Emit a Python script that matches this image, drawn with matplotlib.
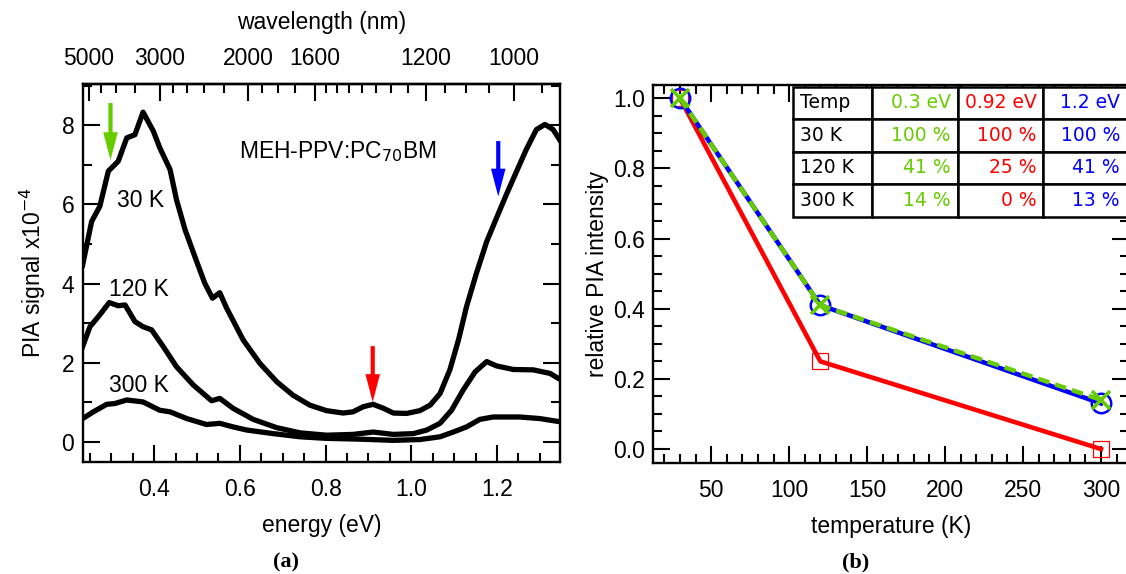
import numpy as np
import matplotlib.pyplot as plt
from matplotlib.ticker import MultipleLocator

plt.rcParams['font.family'] = ['Liberation Sans', 'DejaVu Sans']

# ---- (a) PIA spectra of MEH-PPV:PC70BM at three temperatures ----
e_30k = [0.233, 0.254, 0.273, 0.293, 0.316, 0.336, 0.355, 0.374, 0.398, 0.413,
         0.437, 0.452, 0.472, 0.499, 0.518, 0.536, 0.553, 0.569, 0.608, 0.647,
         0.686, 0.724, 0.763, 0.802, 0.841, 0.864, 0.888, 0.911, 0.935, 0.958,
         0.989, 1.020, 1.044, 1.067, 1.090, 1.110, 1.129, 1.152, 1.176, 1.199,
         1.222, 1.246, 1.269, 1.292, 1.312, 1.331, 1.347]
pia_30k = [4.47, 5.57, 5.95, 6.84, 7.09, 7.68, 7.76, 8.33, 7.85, 7.43,
           6.88, 6.12, 5.36, 4.56, 4.01, 3.63, 3.77, 3.38, 2.57, 1.98,
           1.52, 1.18, 0.93, 0.79, 0.73, 0.76, 0.89, 0.95, 0.85, 0.73,
           0.72, 0.79, 0.93, 1.22, 1.82, 2.57, 3.42, 4.26, 5.06, 5.66,
           6.25, 6.84, 7.40, 7.89, 8.02, 7.89, 7.62]

e_120k = [0.233, 0.250, 0.273, 0.295, 0.316, 0.332, 0.355, 0.374, 0.394, 0.421,
          0.452, 0.491, 0.534, 0.553, 0.584, 0.631, 0.686, 0.740, 0.802, 0.864,
          0.911, 0.958, 1.005, 1.036, 1.067, 1.094, 1.121, 1.149, 1.176, 1.199,
          1.238, 1.285, 1.324, 1.347]
pia_120k = [2.41, 2.91, 3.21, 3.52, 3.44, 3.46, 3.04, 2.91, 2.83, 2.41,
            1.90, 1.44, 1.04, 1.10, 0.85, 0.57, 0.36, 0.23, 0.17, 0.19,
            0.25, 0.19, 0.21, 0.30, 0.47, 0.80, 1.31, 1.77, 2.03, 1.92,
            1.83, 1.82, 1.73, 1.58]

e_300k = [0.233, 0.258, 0.289, 0.308, 0.336, 0.374, 0.413, 0.437, 0.476, 0.522,
          0.553, 0.584, 0.616, 0.678, 0.740, 0.802, 0.880, 0.958, 1.020, 1.067,
          1.098, 1.129, 1.160, 1.191, 1.253, 1.300, 1.347]
pia_300k = [0.59, 0.76, 0.95, 0.97, 1.06, 1.01, 0.80, 0.76, 0.59, 0.44,
            0.47, 0.38, 0.30, 0.21, 0.13, 0.09, 0.07, 0.04, 0.06, 0.13,
            0.25, 0.38, 0.57, 0.63, 0.63, 0.59, 0.51]

curve_labels = ['30 K', '120 K', '300 K']
label_e = [0.369, 0.364, 0.364]
label_y = [6.11, 3.85, 1.43]

arrow_e = [0.298, 0.91, 1.203]
arrow_from = [8.56, 2.42, 7.60]
arrow_to = [7.12, 1.01, 6.20]
green, red, blue = '#66cc00', '#ff0000', '#0000ff'
arrow_colors = [green, red, blue]

wl_major = [5000, 3000, 2000, 1600, 1200, 1000]
wl_minor = [4500, 4000, 3500, 2800, 2600, 2400, 2200, 1900, 1800, 1700,
            1550, 1500, 1450, 1400, 1350, 1300, 1250, 1150, 1100, 1050, 950]

# ---- (b) relative PIA intensity vs temperature ----
temps = [30, 120, 300]
rel_03 = [1.00, 0.41, 0.14]
rel_092 = [1.00, 0.25, 0.00]
rel_12 = [1.00, 0.41, 0.13]

table_text = [['Temp', '0.3 eV', '0.92 eV', '1.2 eV'],
              ['30 K', '100 %', '100 %', '100 %'],
              ['120 K', '41 %', '25 %', '41 %'],
              ['300 K', '14 %', '0 %', '13 %']]
col_colors = ['black', green, red, blue]

HC = 1239.84  # eV nm
FS = 16.5


def hc_over(v):
    v = np.asarray(v, dtype=float)
    with np.errstate(divide='ignore'):
        return HC / v


fig = plt.figure(figsize=(11.26, 5.74), dpi=100)
ax1 = fig.add_axes([0.0734, 0.1956, 0.4239, 0.6580])
ax2 = fig.add_axes([0.5802, 0.1939, 0.4225, 0.6580])

# panel (a)
for e, p in [(e_30k, pia_30k), (e_120k, pia_120k), (e_300k, pia_300k)]:
    ax1.plot(e, p, color='black', lw=3.8, solid_joinstyle='round')
for txt, x, y in zip(curve_labels, label_e, label_y):
    ax1.text(x, y, txt, fontsize=FS, ha='center', va='center')
ax1.text(0.829, 7.33, 'MEH-PPV:PC$_{70}$BM', fontsize=FS, ha='center', va='center')
for x, y0, y1, c in zip(arrow_e, arrow_from, arrow_to, arrow_colors):
    ax1.annotate('', xy=(x, y1), xytext=(x, y0),
                 arrowprops=dict(width=3.0, headwidth=10.5, headlength=20,
                                 color=c, lw=0, shrink=0))

ax1.set_xlim(0.233, 1.347)
ax1.set_ylim(-0.5, 9.04)
ax1.xaxis.set_major_locator(MultipleLocator(0.2))
ax1.xaxis.set_minor_locator(MultipleLocator(0.05))
ax1.yaxis.set_major_locator(MultipleLocator(2))
ax1.yaxis.set_minor_locator(MultipleLocator(1))
ax1.xaxis.set_major_formatter(plt.FormatStrFormatter('%.1f'))
ax1.tick_params(which='both', direction='in', top=False, right=True,
                width=1.5, labelsize=FS)
ax1.tick_params(axis='x', which='both', pad=12)
ax1.tick_params(axis='y', which='both', pad=6)
ax1.tick_params(which='major', length=12)
ax1.tick_params(which='minor', length=6.5)
ax1.set_xlabel('energy (eV)', fontsize=FS, labelpad=9)
ax1.set_ylabel('PIA signal x10$^{-4}$', fontsize=FS, labelpad=10)

sec = ax1.secondary_xaxis('top', functions=(hc_over, hc_over))
sec.set_xticks(wl_major, labels=[str(w) for w in wl_major])
sec.set_xticks(wl_minor, minor=True)
sec.tick_params(which='both', direction='in', width=1.5, labelsize=FS, pad=10)
sec.tick_params(which='major', length=12)
sec.tick_params(which='minor', length=6.5)
sec.set_xlabel('wavelength (nm)', fontsize=FS, labelpad=13)
for s in sec.spines.values():
    s.set_linewidth(1.7)

# panel (b)
ax2.plot(temps, rel_092, color=red, lw=3.3, marker='s', ms=11, mfc='none',
         mec=red, mew=0.9, zorder=3)
ax2.plot(temps, rel_12, color=blue, lw=3.3, marker='o', ms=14, mfc='none',
         mec=blue, mew=1.8, zorder=4)
ax2.plot(temps, rel_03, color=green, lw=3.2, ls=(0, (2.6, 1.4)), marker='x',
         ms=12.5, mew=2.6, zorder=5)

ax2.set_xlim(12.9, 318)
ax2.set_ylim(-0.039, 1.038)
ax2.xaxis.set_major_locator(MultipleLocator(50))
ax2.xaxis.set_minor_locator(MultipleLocator(10))
ax2.yaxis.set_major_locator(MultipleLocator(0.2))
ax2.yaxis.set_minor_locator(MultipleLocator(0.05))
ax2.yaxis.set_major_formatter(plt.FormatStrFormatter('%.1f'))
ax2.tick_params(which='both', direction='in', top=True, right=True,
                width=1.5, labelsize=FS)
ax2.tick_params(axis='x', which='both', pad=12)
ax2.tick_params(axis='y', which='both', pad=6)
ax2.tick_params(which='major', length=12)
ax2.tick_params(which='minor', length=6.5)
ax2.set_xlabel('temperature (K)', fontsize=FS, labelpad=9)
ax2.set_ylabel('relative PIA intensity', fontsize=FS, labelpad=3)

for ax in (ax1, ax2):
    for s in ax.spines.values():
        s.set_linewidth(1.7)

tab = ax2.table(cellText=table_text, colWidths=[78.4, 86, 85.6, 83.4],
                cellLoc='right', bbox=[0.2943, 0.6513, 0.7007, 0.3442])
tab.auto_set_font_size(False)
tab.set_zorder(10)
for (r, c), cell in tab.get_celld().items():
    cell.set_linewidth(1.8)
    cell.set_facecolor('white')
    cell.PAD = 0.08
    cell.set_text_props(color=col_colors[c], fontsize=13.5, family='DejaVu Sans')
    if c == 0:
        cell.get_text().set_horizontalalignment('left')

fig.text(0.254, 0.0192, '(a)', fontsize=16, fontweight='bold',
         family='Liberation Serif', ha='center', va='center')
fig.text(0.760, 0.0192, '(b)', fontsize=16, fontweight='bold',
         family='Liberation Serif', ha='center', va='center')

fig.savefig('out.png', dpi=100)
